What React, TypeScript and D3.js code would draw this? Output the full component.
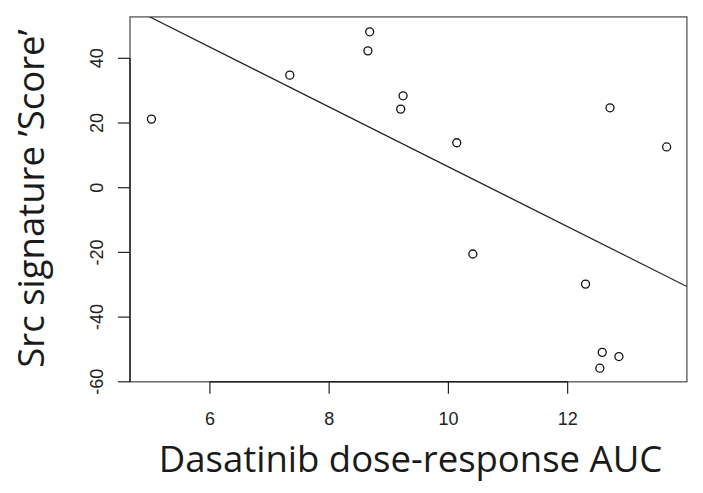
import React from "react";
import * as d3 from "d3";

const auc = [5.02, 7.34, 8.68, 8.65, 9.24, 9.2, 12.71, 10.14, 13.66, 10.41, 12.3, 12.58, 12.86, 12.54];
const score = [21.2, 34.8, 48.2, 42.3, 28.4, 24.3, 24.7, 13.9, 12.6, -20.5, -29.8, -50.9, -52.2, -55.8];
const xTicks = [6, 8, 10, 12];
const yTicks = [-60, -40, -20, 0, 20, 40];
const xTitle = "Dasatinib dose-response AUC";
const yTitle = "Src signature \u2019Score\u2019";

export default function App() {
  const W = 703, H = 493;
  const L = 130, R = 686.9, T = 16.9, B = 381.8;
  const x = d3.scaleLinear().domain([4.66, 14.0]).range([L, R]);
  const y = d3.scaleLinear().domain([-60, 52.8]).range([B, T]);

  const mx = d3.mean(auc)!;
  const my = d3.mean(score)!;
  const sxy = d3.sum(auc, (v, i) => (v - mx) * (score[i] - my));
  const sxx = d3.sum(auc, (v) => (v - mx) * (v - mx));
  const slope = sxy / sxx;
  const icpt = my - slope * mx;
  const [x0, x1] = x.domain();
  const line = d3.line<number>().x((v) => x(v)).y((v) => y(icpt + slope * v));

  const tickFont = "'Liberation Sans', Arial, Helvetica, sans-serif";
  const titleFont = "'Open Sans', 'Noto Sans', sans-serif";

  return (
    <svg width={W} height={H} style={{ position: "absolute", left: 0, top: 0, background: "#fff" }}>
      <defs>
        <clipPath id="plot">
          <rect x={L} y={T} width={R - L} height={B - T} />
        </clipPath>
      </defs>
      <rect x={0} y={0} width={W} height={H} fill="#fff" />
      <rect x={L} y={T} width={R - L} height={B - T} fill="none" stroke="#555" strokeWidth={1.3} />
      <line x1={x(xTicks[0])} x2={x(xTicks[xTicks.length - 1])} y1={B} y2={B} stroke="#222" strokeWidth={1.4} />
      <line x1={L} x2={L} y1={y(yTicks[0])} y2={y(yTicks[yTicks.length - 1])} stroke="#222" strokeWidth={1.4} />
      {xTicks.map((t) => (
        <g key={"xt" + t}>
          <line x1={x(t)} x2={x(t)} y1={B} y2={B + 12} stroke="#222" strokeWidth={1.2} />
          <text x={x(t)} y={425} textAnchor="middle" fontFamily={tickFont} fontSize={18} fill="#222">
            {t}
          </text>
        </g>
      ))}
      {yTicks.map((t) => (
        <g key={"yt" + t}>
          <line x1={L - 12} x2={L} y1={y(t)} y2={y(t)} stroke="#222" strokeWidth={1.2} />
          <text
            transform={`translate(103,${y(t)}) rotate(-90)`}
            textAnchor="middle"
            fontFamily={tickFont}
            fontSize={18}
            fill="#222"
          >
            {t}
          </text>
        </g>
      ))}
      <path d={line([x0, x1]) || ""} fill="none" stroke="#222" strokeWidth={1.2} clipPath="url(#plot)" />
      {auc.map((v, i) => (
        <circle key={i} cx={x(v)} cy={y(score[i])} r={4} fill="none" stroke="#111" strokeWidth={1.3} />
      ))}
      <text x={410.5} y={472} textAnchor="middle" fontFamily={titleFont} fontSize={36.5} fill="#1a1a1a">
        {xTitle}
      </text>
      <text
        transform={`translate(44,${198.5}) rotate(-90)`}
        textAnchor="middle"
        fontFamily={titleFont}
        fontSize={36.5}
        fill="#1a1a1a"
      >
        {yTitle}
      </text>
    </svg>
  );
}
